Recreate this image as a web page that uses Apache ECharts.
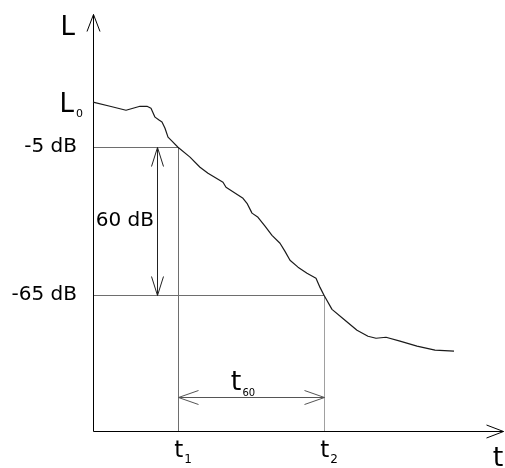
<!DOCTYPE html>
<html>
<head>
<meta charset="utf-8">
<script src="https://cdn.jsdelivr.net/npm/echarts@6/dist/echarts.min.js"></script>
<style>
  html, body { margin: 0; padding: 0; background: #fff; }
  #chart { width: 505px; height: 468px; }
</style>
</head>
<body>
<div id="chart"></div>
<script>
// Sound level decay after the source stops: reading t60 from the -5 dB / -65 dB crossings.

// decay curve (time units, level in dB relative to the reference line at 0)
const decayTime = [0, 34, 66, 94, 108, 116, 124, 132, 138, 144, 150, 158, 170, 194, 214, 230, 260, 266,
  300, 308, 318, 330, 344, 358, 374, 384, 394, 410, 428, 446, 454, 462, 478, 504, 528, 550, 566, 586,
  614, 648, 684, 722];
const decayLevel = [13.3, 11.6, 10.0, 11.6, 11.6, 10.8, 7.2, 6.0, 5.2, 2.7, -0.9, -2.5, -5.0, -9.0,
  -13.1, -15.5, -19.2, -21.2, -25.7, -27.7, -31.7, -33.4, -37.0, -40.7, -43.9, -47.2, -50.8, -53.6,
  -56.1, -58.1, -61.8, -65.0, -70.7, -75.1, -79.2, -81.6, -82.4, -82.0, -83.6, -85.6, -87.2, -87.6];

// evaluation levels and the times where the curve crosses them
const startLevel = 13.3;      // L0
const upperLevel = -5;        // -5 dB
const lowerLevel = -65;       // -65 dB
const crossTimes = [170, 462]; // t1, t2
const crossSubs = ['1', '2'];

// axis extents
const timeMax = 820;
const levelFloor = -120;
const levelTop = 49;

// where the two dimension arrows sit
const spanArrowTime = 128;     // vertical 60 dB arrow
const t60ArrowLevel = -106.3;  // horizontal t60 arrow

const levelSpan = upperLevel - lowerLevel;
const [t1, t2] = crossTimes;

const FONT = 'DejaVu Sans';

// straight segments, optionally with open arrow heads
function arrowSeries(name, segments, style) {
  return {
    name: name,
    type: 'custom',
    coordinateSystem: 'cartesian2d',
    clip: false,
    silent: true,
    z: style.z || 2,
    data: segments,
    renderItem: function (params, api) {
      const px = function (p) { return [Math.round(p[0]) + 0.5, Math.round(p[1]) + 0.5]; };
      const a = px(api.coord([api.value(0), api.value(1)]));
      const b = px(api.coord([api.value(2), api.value(3)]));
      const lineStyle = { stroke: style.color, lineWidth: style.width || 1, fill: null };
      const children = [{ type: 'line', shape: { x1: a[0], y1: a[1], x2: b[0], y2: b[1] }, style: lineStyle }];
      const head = function (from, tip) {
        const dx = tip[0] - from[0], dy = tip[1] - from[1];
        const len = Math.sqrt(dx * dx + dy * dy) || 1;
        const ux = dx / len, uy = dy / len, nx = -uy, ny = ux;
        const L = style.headLen, W = style.headHalf;
        return {
          type: 'polyline',
          shape: { points: [
            [tip[0] - ux * L + nx * W, tip[1] - uy * L + ny * W],
            tip,
            [tip[0] - ux * L - nx * W, tip[1] - uy * L - ny * W]
          ] },
          style: lineStyle
        };
      };
      if (style.heads >= 1) children.push(head(a, b));
      if (style.heads >= 2) children.push(head(b, a));
      return { type: 'group', children: children };
    }
  };
}

const chart = echarts.init(document.getElementById('chart'), null, { renderer: 'canvas' });

chart.setOption({
  animation: false,
  backgroundColor: '#ffffff',
  textStyle: { fontFamily: FONT },
  grid: { left: 93, right: 2, top: 14, bottom: 37, containLabel: false, outerBoundsMode: 'none' },
  xAxis: {
    type: 'value',
    min: 0,
    max: timeMax,
    axisLine: { show: false },
    axisTick: { show: false },
    splitLine: { show: false },
    axisLabel: {
      customValues: crossTimes,
      margin: 9,
      color: '#000',
      formatter: function (v) { return '{t|t}{s|' + crossSubs[crossTimes.indexOf(v)] + '}'; },
      rich: {
        t: { fontFamily: FONT, fontSize: 23, color: '#000', padding: [0, 0, 0, 10] },
        s: { fontFamily: FONT, fontSize: 12, color: '#000', verticalAlign: 'bottom', padding: [0, 0, -3, 1] }
      }
    }
  },
  yAxis: {
    type: 'value',
    min: levelFloor,
    max: levelTop,
    name: 'L',
    nameLocation: 'end',
    nameGap: 0,
    nameTextStyle: { fontFamily: FONT, fontSize: 26, color: '#000', align: 'right', verticalAlign: 'top', padding: [1, 18, 0, 0] },
    axisLine: { show: false },
    axisTick: { show: false },
    splitLine: { show: false },
    axisLabel: {
      customValues: [lowerLevel, upperLevel, startLevel],
      margin: 10,
      color: '#000',
      formatter: function (v) {
        return v === startLevel ? '{L|L}{s|0}' : '{n|' + v + ' dB}';
      },
      rich: {
        n: { fontFamily: FONT, fontSize: 20, color: '#000', padding: [0, 6, 0, 0] },
        L: { fontFamily: FONT, fontSize: 26, color: '#000', padding: [6, 0, 0, 0] },
        s: { fontFamily: FONT, fontSize: 11, color: '#000', verticalAlign: 'bottom', padding: [0, 0, -2, 2] }
      }
    }
  },
  series: [
    // coordinate axes with arrow heads
    arrowSeries('axes', [
      [0, levelFloor, timeMax, levelFloor],
      [0, levelFloor, 0, levelTop]
    ], { color: '#000', heads: 1, headLen: 17, headHalf: 6.5, z: 3 }),
    // reading lines at -5 dB / t1
    arrowSeries('upper', [
      [0, upperLevel, t1, upperLevel],
      [t1, upperLevel, t1, levelFloor]
    ], { color: '#6e6e6e', heads: 0 }),
    // reading lines at -65 dB / t2
    arrowSeries('lower', [
      [0, lowerLevel, t2, lowerLevel]
    ], { color: '#6e6e6e', heads: 0 }),
    arrowSeries('lowerDrop', [
      [t2, lowerLevel, t2, levelFloor]
    ], { color: '#a0a0a0', heads: 0 }),
    // 60 dB span
    arrowSeries('span', [
      [spanArrowTime, lowerLevel, spanArrowTime, upperLevel]
    ], { color: '#222', heads: 2, headLen: 19, headHalf: 6 }),
    // t60 interval
    arrowSeries('interval', [
      [t1, t60ArrowLevel, t2, t60ArrowLevel]
    ], { color: '#555', heads: 2, headLen: 20, headHalf: 7 }),
    {
      name: 'decay',
      type: 'line',
      data: decayTime.map(function (t, i) { return [t, decayLevel[i]]; }),
      symbol: 'none',
      smooth: false,
      clip: false,
      z: 4,
      lineStyle: { color: '#1a1a1a', width: 1.2 }
    },
    {
      name: 'notes',
      type: 'scatter',
      symbolSize: 0,
      silent: true,
      clip: false,
      z: 5,
      itemStyle: { opacity: 1 },
      data: [
        {
          value: [spanArrowTime, (upperLevel + lowerLevel) / 2],
          label: {
            show: true, position: 'left', distance: 3,
            formatter: levelSpan + ' dB',
            fontFamily: FONT, fontSize: 20, color: '#000'
          }
        },
        {
          value: [(t1 + t2) / 2, t60ArrowLevel],
          label: {
            show: true, position: 'top', distance: 1, offset: [-8, 0],
            formatter: '{t|t}{s|' + levelSpan + '}',
            rich: {
              t: { fontFamily: FONT, fontSize: 27, color: '#000' },
              s: { fontFamily: FONT, fontSize: 10, color: '#000', verticalAlign: 'bottom', padding: [0, 0, -2, 1] }
            }
          }
        },
        {
          // time axis name below the arrow tip
          value: [timeMax, levelFloor],
          label: {
            show: true, position: 'bottom', distance: 14, offset: [-5, 0],
            formatter: 't',
            fontFamily: FONT, fontSize: 27, color: '#000'
          }
        }
      ]
    }
  ]
});
</script>
</body>
</html>
